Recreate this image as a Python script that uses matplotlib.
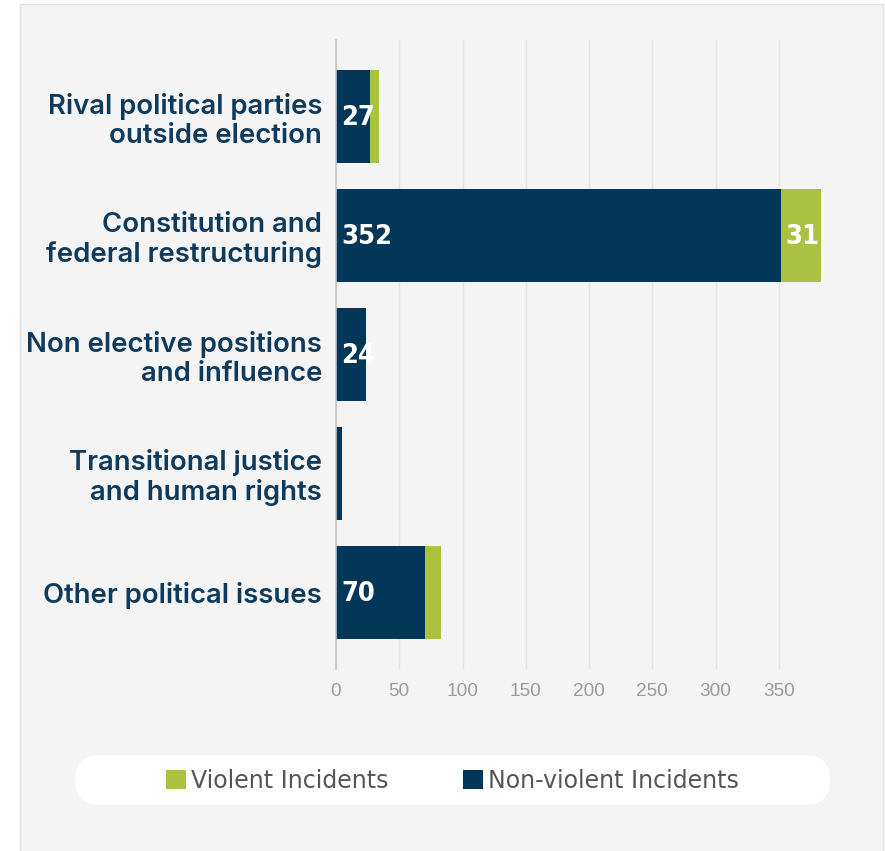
import matplotlib
matplotlib.use("Agg")
import matplotlib.pyplot as plt
from matplotlib.patches import Rectangle, FancyBboxPatch, Patch
from matplotlib.transforms import IdentityTransform
import numpy as np

# chart data
categories = [
    "Rival political parties\noutside election",
    "Constitution and\nfederal restructuring",
    "Non elective positions\nand influence",
    "Transitional justice\nand human rights",
    "Other political issues",
]
non_violent = [27, 352, 24, 5, 70]
violent = [7, 31, 0, 0, 13]
x_ticks = [0, 50, 100, 150, 200, 250, 300, 350]

# colours
dark_blue = "#03375a"
green = "#abc142"
label_blue = "#0e3a5d"

W, H = 885, 851
fig = plt.figure(figsize=(W / 100, H / 100), dpi=100)
fig.patch.set_facecolor("white")

# light grey panel behind everything (pixel coords, origin bottom-left)
fig.patches.append(Rectangle((19.5, -10), 883 - 19.5, H + 10 - 4,
                             transform=IdentityTransform(), facecolor="#f4f4f4",
                             edgecolor="#e2e2e2", linewidth=1, zorder=-5))

ax = fig.add_axes([336 / W, 1 - 669 / H, (832 - 336) / W, (669 - 40) / H])
ax.set_facecolor("#f4f4f4")

y = np.arange(len(categories))
ax.barh(y, non_violent, height=0.78, color=dark_blue, zorder=3)
ax.barh(y, violent, left=non_violent, height=0.78, color=green, zorder=3)

# value labels inside the segments
val_font = dict(family="DejaVu Sans", stretch="condensed", weight="bold",
                size=19.5, color="white")
for i in range(len(categories)):
    if non_violent[i] >= 20:
        ax.annotate(str(non_violent[i]), (0, y[i]), xytext=(4, -1),
                    textcoords="offset points", ha="left", va="center",
                    zorder=4, **val_font)
    if violent[i] >= 20:
        ax.annotate(str(violent[i]), (non_violent[i], y[i]), xytext=(3, -1),
                    textcoords="offset points", ha="left", va="center",
                    zorder=4, **val_font)

ax.set_xlim(0, 392)
ax.set_ylim(4.643, -0.643)
ax.set_xticks(x_ticks)
ax.set_yticks(y)
ax.set_yticklabels(categories, family="Inter", weight=600, fontsize=19.8,
                   color=label_blue, linespacing=1.13)
ax.tick_params(axis="y", length=0, pad=10)
ax.tick_params(axis="x", length=0, pad=10, labelsize=13.7, labelcolor="#9b9b9b")
for lab in ax.get_xticklabels():
    lab.set_family("Liberation Sans")

ax.grid(axis="x", color="#e4e4e4", linewidth=1, zorder=0)
for s in ["top", "right", "bottom"]:
    ax.spines[s].set_visible(False)
ax.spines["left"].set_color("#c4c4c4")
ax.spines["left"].set_linewidth(1.2)
ax.spines["left"].set_zorder(5)

# legend in a white pill
fig.patches.append(FancyBboxPatch((75, H - 805), 830 - 75, 50,
                                  boxstyle="round,pad=0,rounding_size=25",
                                  transform=IdentityTransform(), facecolor="white",
                                  edgecolor="none", zorder=-4))
handles = [Patch(facecolor=green, label="Violent Incidents"),
           Patch(facecolor=dark_blue, label="Non-violent Incidents")]
leg = fig.legend(handles=handles, loc="center", bbox_to_anchor=(452.5 / W, 1 - 781 / H),
                 ncol=2, frameon=False, prop=dict(family="DejaVu Sans", size=17),
                 handlelength=0.85, handleheight=0.85, handletextpad=0.2,
                 columnspacing=3.15)
for t in leg.get_texts():
    t.set_color("#555555")

fig.savefig("out.png", dpi=100, facecolor=fig.get_facecolor())
